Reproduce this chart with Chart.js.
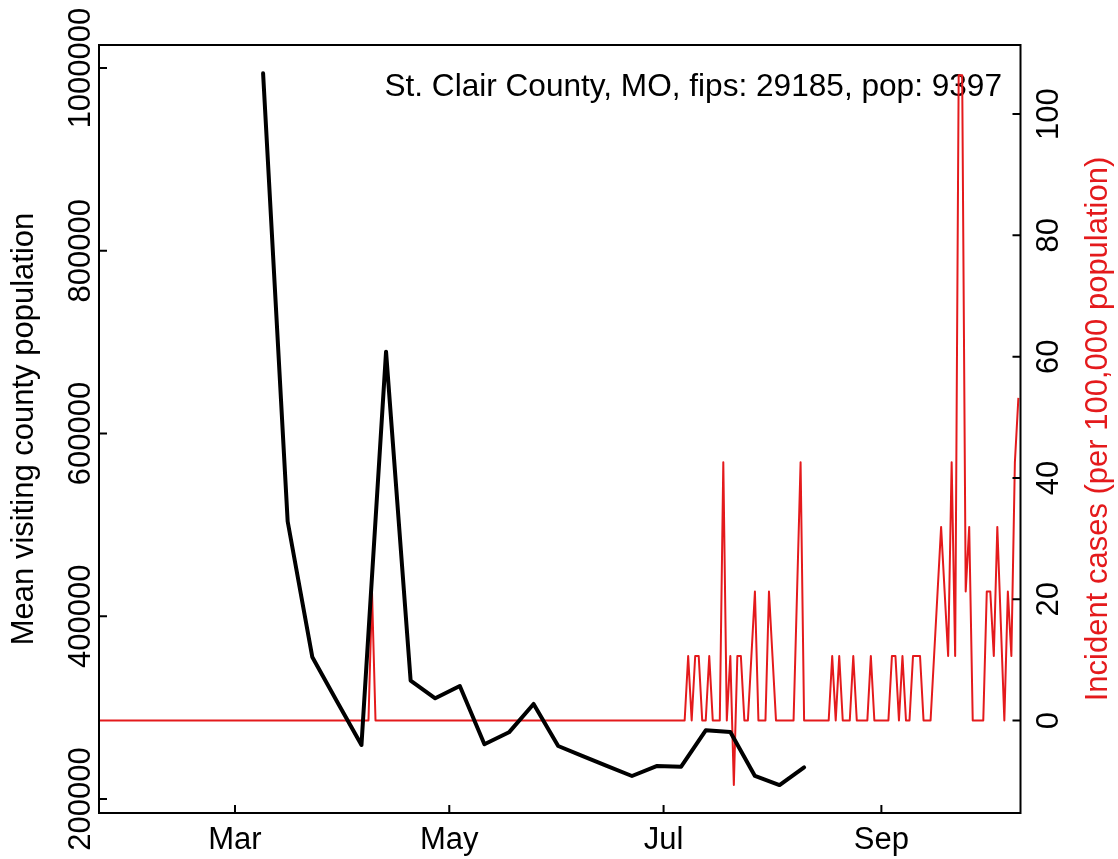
<!DOCTYPE html>
<html>
<head>
<meta charset="utf-8">
<script src="https://cdn.jsdelivr.net/npm/chart.js@4/dist/chart.umd.min.js"></script>
<style>
  html, body { margin: 0; padding: 0; background: #fff; }
  canvas { display: block; }
</style>
</head>
<body>
<canvas id="chart" width="1118" height="859"></canvas>
<script>
// days are counted from Jan 1 2020 (Jan 1 = 0, Mar 1 = 60)
const visitDays = [68, 75, 82, 89, 96, 103, 110, 117, 124, 131, 138, 145,
                   152, 159, 166, 173, 180, 187, 194, 201, 208, 215, 222];
const meanVisitPop = [994200, 503700, 355500, 307000, 259100, 689500, 329500, 310200,
                      323700, 259900, 273000, 304000, 258000, 247000, 236000, 225200,
                      236100, 235400, 275200, 273300, 225200, 215300, 234700];

// daily incident cases per 100,000, first value is day 21 (Jan 22)
const caseStartDay = 21;
const incidentPer100k = [
  0, 0, 0, 0, 0, 0, 0, 0, 0, 0,            // 21-30
  0, 0, 0, 0, 0, 0, 0, 0, 0, 0,            // 31-40
  0, 0, 0, 0, 0, 0, 0, 0, 0, 0,            // 41-50
  0, 0, 0, 0, 0, 0, 0, 0, 0, 0,            // 51-60
  0, 0, 0, 0, 0, 0, 0, 0, 0, 0,            // 61-70
  0, 0, 0, 0, 0, 0, 0, 0, 0, 0,            // 71-80
  0, 0, 0, 0, 0, 0, 0, 0, 0, 0,            // 81-90
  0, 0, 0, 0, 0, 0, 0, 0, 21.28, 0,        // 91-100
  0, 0, 0, 0, 0, 0, 0, 0, 0, 0,            // 101-110
  0, 0, 0, 0, 0, 0, 0, 0, 0, 0,            // 111-120
  0, 0, 0, 0, 0, 0, 0, 0, 0, 0,            // 121-130
  0, 0, 0, 0, 0, 0, 0, 0, 0, 0,            // 131-140
  0, 0, 0, 0, 0, 0, 0, 0, 0, 0,            // 141-150
  0, 0, 0, 0, 0, 0, 0, 0, 0, 0,            // 151-160
  0, 0, 0, 0, 0, 0, 0, 0, 0, 0,            // 161-170
  0, 0, 0, 0, 0, 0, 0, 0, 0, 0,            // 171-180
  0, 0, 0, 0, 0, 0, 0, 0, 10.64, 0,        // 181-190
  10.64, 10.64, 0, 0, 10.64, 0, 0, 0, 42.57, 0,          // 191-200
  10.64, -10.64, 10.64, 10.64, 0, 0, 10.64, 21.28, 0, 0, // 201-210
  0, 21.28, 10.64, 0, 0, 0, 0, 0, 0, 21.28,              // 211-220
  42.57, 0, 0, 0, 0, 0, 0, 0, 0, 10.64,                  // 221-230
  0, 10.64, 0, 0, 0, 10.64, 0, 0, 0, 0,                  // 231-240
  10.64, 0, 0, 0, 0, 0, 10.64, 10.64, 0, 10.64,          // 241-250
  0, 0, 10.64, 10.64, 10.64, 0, 0, 0, 10.64, 21.28,      // 251-260
  31.93, 21.28, 10.64, 42.57, 10.64, 106.4, 106.4, 21.28, 31.93, 0, // 261-270
  0, 0, 0, 21.28, 21.28, 10.64, 31.93, 16, 0, 21.28,     // 271-280
  10.64, 42.57, 53.21                                    // 281-283
];

const xTickDays = [60, 121, 182, 244];
const xTickLabels = ["Mar", "May", "Jul", "Sep"];
const leftTicks = [200000, 400000, 600000, 800000, 1000000];
const rightTicks = [0, 20, 40, 60, 80, 100];

const countyLabel = "St. Clair County, MO, fips: 29185, pop: 9397";
const leftTitle = "Mean visiting county population";
const rightTitle = "Incident cases (per 100,000 population)";

const RED = "#E41A1C";
const FONT = '31px "Liberation Sans", Arial, sans-serif';
const LABEL_FONT = '31.6px "Liberation Sans", Arial, sans-serif';

const visitPoints = visitDays.map((d, i) => ({ x: d, y: meanVisitPop[i] }));
const casePoints = incidentPer100k.map((v, i) => ({ x: caseStartDay + i, y: v }));

// R style frame, inward ticks and rotated axis text
const rFrame = {
    id: "rFrame",
    beforeDatasetsDraw(chart) {
        const ctx = chart.ctx;
        ctx.save();
        ctx.font = LABEL_FONT;
        ctx.fillStyle = "#000";
        ctx.textAlign = "right";
        ctx.textBaseline = "alphabetic";
        ctx.fillText(countyLabel, 1002, 96);
        ctx.restore();
    },
    afterDraw(chart) {
        const { ctx, chartArea: a, scales } = chart;
        ctx.save();
        ctx.strokeStyle = "#000";
        ctx.lineWidth = 2;
        ctx.strokeRect(a.left, a.top, a.right - a.left, a.bottom - a.top);

        ctx.beginPath();
        xTickDays.forEach(d => {
            const px = scales.x.getPixelForValue(d);
            ctx.moveTo(px, a.bottom); ctx.lineTo(px, a.bottom - 8);
        });
        leftTicks.forEach(v => {
            const py = scales.y.getPixelForValue(v);
            ctx.moveTo(a.left, py); ctx.lineTo(a.left + 8, py);
        });
        rightTicks.forEach(v => {
            const py = scales.y2.getPixelForValue(v);
            ctx.moveTo(a.right, py); ctx.lineTo(a.right - 8, py);
        });
        ctx.stroke();

        ctx.font = FONT;
        ctx.fillStyle = "#000";
        ctx.textAlign = "center";
        ctx.textBaseline = "alphabetic";
        xTickDays.forEach((d, i) => {
            ctx.fillText(xTickLabels[i], scales.x.getPixelForValue(d), 849);
        });

        function vtext(txt, x, y, color) {
            ctx.save();
            ctx.translate(x, y);
            ctx.rotate(-Math.PI / 2);
            ctx.fillStyle = color;
            ctx.fillText(txt, 0, 0);
            ctx.restore();
        }
        leftTicks.forEach(v => vtext(String(v), 89.5, scales.y.getPixelForValue(v), "#000"));
        rightTicks.forEach(v => vtext(String(v), 1058, scales.y2.getPixelForValue(v), "#000"));
        const midY = (a.top + a.bottom) / 2;
        vtext(leftTitle, 33, midY, "#000");
        vtext(rightTitle, 1107, midY, RED);
        ctx.restore();
    }
};

const chart = new Chart(document.getElementById("chart"), {
    type: "line",
    data: {
        datasets: [{
            label: "Mean visiting county population",
            data: visitPoints,
            yAxisID: "y",
            borderColor: "#000",
            borderWidth: 4,
            borderJoinStyle: "round",
            borderCapStyle: "round",
            pointRadius: 0,
            tension: 0,
            fill: false
        }, {
            label: "Incident cases",
            data: casePoints,
            yAxisID: "y2",
            borderColor: RED,
            borderWidth: 2,
            borderJoinStyle: "round",
            pointRadius: 0,
            tension: 0,
            fill: false,
            clip: 0
        }]
    },
    options: {
        responsive: false,
        animation: false,
        devicePixelRatio: 1,
        parsing: false,
        layout: { padding: { top: 45, left: 0, right: 0, bottom: 0 } },
        plugins: { legend: { display: false }, tooltip: { enabled: false } },
        scales: {
            x: {
                type: "linear",
                min: 21.29,
                max: 283.6,
                grid: { display: false },
                border: { display: false },
                ticks: { display: false },
                afterFit(s) { s.height = 46; }
            },
            y: {
                type: "linear",
                position: "left",
                min: 184700,
                max: 1025200,
                grid: { display: false },
                border: { display: false },
                ticks: { display: false },
                afterFit(s) { s.width = 99; }
            },
            y2: {
                type: "linear",
                position: "right",
                min: -15.25,
                max: 111.39,
                grid: { display: false },
                border: { display: false },
                ticks: { display: false },
                afterFit(s) { s.width = 97.5; }
            }
        }
    },
    plugins: [rFrame]
});
</script>
</body>
</html>
